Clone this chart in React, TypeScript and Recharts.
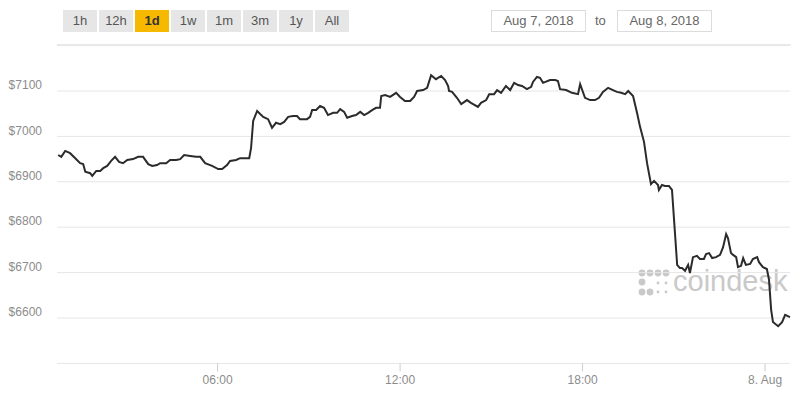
import React from 'react';
import { LineChart, Line, XAxis, YAxis, CartesianGrid } from 'recharts';

// hours since 00:00 Aug 7 (24 = 00:00 Aug 8)
const hours = [
  0.76, 0.86, 0.99, 1.15, 1.32, 1.48, 1.58, 1.65, 1.81, 1.88,
  2.01, 2.14, 2.24, 2.37, 2.5, 2.63, 2.76, 2.89, 3.03, 3.22,
  3.39, 3.55, 3.72, 3.85, 4.01, 4.11, 4.31, 4.44, 4.64, 4.77,
  4.9, 5.1, 5.29, 5.43, 5.59, 5.82, 6.02, 6.15, 6.31, 6.41,
  6.61, 6.74, 6.94, 7.04, 7.1, 7.17, 7.3, 7.5, 7.66, 7.79,
  7.92, 8.06, 8.19, 8.32, 8.48, 8.61, 8.71, 8.94, 9.04, 9.11,
  9.24, 9.37, 9.5, 9.63, 9.8, 9.93, 10.03, 10.16, 10.26, 10.42,
  10.55, 10.69, 10.82, 10.95, 11.08, 11.21, 11.34, 11.38, 11.51, 11.67,
  11.87, 12.0, 12.16, 12.33, 12.46, 12.56, 12.76, 12.89, 13.02, 13.18,
  13.35, 13.48, 13.58, 13.61, 13.71, 13.87, 14.01, 14.2, 14.33, 14.56,
  14.66, 14.83, 14.93, 15.09, 15.19, 15.32, 15.48, 15.62, 15.75, 15.88,
  16.01, 16.17, 16.31, 16.37, 16.5, 16.6, 16.7, 16.93, 17.1, 17.19,
  17.26, 17.46, 17.65, 17.85, 17.92, 18.08, 18.25, 18.41, 18.54, 18.67,
  18.84, 19.0, 19.13, 19.27, 19.4, 19.5, 19.66, 19.79, 19.89, 20.02,
  20.12, 20.25, 20.35, 20.48, 20.51, 20.61, 20.71, 20.84, 20.94, 21.11,
  21.2, 21.27, 21.37, 21.47, 21.53, 21.63, 21.76, 21.86, 21.99, 22.06,
  22.16, 22.26, 22.39, 22.52, 22.62, 22.72, 22.78, 22.88, 22.95, 23.05,
  23.11, 23.21, 23.28, 23.37, 23.51, 23.6, 23.74, 23.8, 23.93, 24.06,
  24.13, 24.2, 24.26, 24.43, 24.56, 24.66, 24.75, 24.82,
];

// BTC price in USD
const prices = [
  6959, 6955, 6968, 6963, 6952, 6941, 6939, 6922, 6919, 6913,
  6924, 6924, 6930, 6935, 6946, 6955, 6944, 6941, 6948, 6950,
  6955, 6955, 6939, 6935, 6937, 6941, 6941, 6948, 6948, 6950,
  6959, 6957, 6955, 6955, 6941, 6935, 6928, 6928, 6937, 6946,
  6948, 6952, 6952, 6952, 6974, 7034, 7056, 7043, 7038, 7019,
  7030, 7027, 7032, 7043, 7045, 7045, 7038, 7038, 7043, 7058,
  7058, 7067, 7063, 7047, 7052, 7052, 7060, 7054, 7041, 7045,
  7047, 7054, 7047, 7052, 7058, 7063, 7063, 7089, 7091, 7087,
  7096, 7087, 7078, 7078, 7087, 7100, 7102, 7107, 7135, 7126,
  7133, 7124, 7111, 7100, 7098, 7085, 7071, 7080, 7074, 7065,
  7074, 7080, 7093, 7093, 7102, 7096, 7111, 7102, 7118, 7113,
  7111, 7104, 7109, 7120, 7131, 7129, 7118, 7124, 7124, 7122,
  7104, 7102, 7096, 7093, 7115, 7085, 7080, 7080, 7085, 7098,
  7107, 7102, 7098, 7096, 7093, 7100, 7089, 7052, 7021, 6988,
  6941, 6895, 6902, 6893, 6882, 6893, 6891, 6891, 6882, 6717,
  6710, 6710, 6704, 6717, 6699, 6734, 6737, 6730, 6730, 6741,
  6743, 6732, 6734, 6739, 6756, 6785, 6776, 6743, 6739, 6734,
  6712, 6715, 6732, 6717, 6719, 6730, 6734, 6723, 6712, 6708,
  6684, 6618, 6591, 6582, 6591, 6607, 6604, 6602,
];

const yTicks = [6600, 6700, 6800, 6900, 7000, 7100];
const xTicks = [6, 12, 18, 24];
const xTickLabels = ['06:00', '12:00', '18:00', '8. Aug'];
const ranges = ['1h', '12h', '1d', '1w', '1m', '3m', '1y', 'All'];
const activeRange = '1d';
const dateFrom = 'Aug 7, 2018';
const dateTo = 'Aug 8, 2018';

const FONT = '"Liberation Sans", Arial, sans-serif';

const data = hours.map((t, i) => ({ t, price: prices[i] }));

function YTick({ x, y, payload }: any) {
  return (
    <text x={x} y={y - 6} dy="0.35em" textAnchor="end" fill="#8c8c8c" fontSize={12} fontFamily={FONT}>
      ${payload.value}
    </text>
  );
}

function Watermark() {
  const dot = (cx: number, cy: number, r: number) => <circle key={`${cx}-${cy}`} cx={cx} cy={cy} r={r} fill="#c9c9c9" />;
  return (
    <div style={{ position: 'absolute', left: 638, top: 266, zIndex: 0, display: 'flex', alignItems: 'center' }}>
      <svg width={32} height={34}>
        {[4, 12, 20, 28].map((cx) => dot(cx, 7, 3.4))}
        {dot(4, 16, 3.4)}
        {dot(4, 26, 3.4)}
        {dot(12, 26, 3.4)}
        {dot(20, 17, 1.4)}
        {dot(20, 26, 1.4)}
        {dot(28, 17, 1.4)}
        {dot(28, 26, 1.4)}
      </svg>
      <span style={{ fontFamily: FONT, fontSize: 29, color: '#c9c9c9', marginLeft: 3, marginTop: -4 }}>coindesk</span>
    </div>
  );
}

export default function App() {
  return (
    <div style={{ position: 'absolute', left: 0, top: 0, width: 800, height: 400, background: '#fff', fontFamily: FONT }}>
      {/* range buttons */}
      {ranges.map((r, i) => (
        <div
          key={r}
          style={{
            position: 'absolute',
            left: 63 + i * 36,
            top: 10,
            width: 34,
            height: 22,
            lineHeight: '22px',
            textAlign: 'center',
            fontSize: 13,
            background: r === activeRange ? '#f7b900' : '#e6e6e6',
            color: r === activeRange ? '#333' : '#555',
            fontWeight: r === activeRange ? 'bold' : 'normal',
          }}
        >
          {r}
        </div>
      ))}

      {/* date range */}
      <div style={{ position: 'absolute', left: 491, top: 10, width: 93, height: 20, border: '1px solid #dcdcdc', textAlign: 'center', lineHeight: '20px', fontSize: 13, color: '#666' }}>
        {dateFrom}
      </div>
      <div style={{ position: 'absolute', left: 595, top: 10, height: 22, lineHeight: '22px', fontSize: 13, color: '#666' }}>to</div>
      <div style={{ position: 'absolute', left: 617, top: 10, width: 93, height: 20, border: '1px solid #dcdcdc', textAlign: 'center', lineHeight: '20px', fontSize: 13, color: '#666' }}>
        {dateTo}
      </div>
      <div style={{ position: 'absolute', left: 57, top: 44, width: 734, height: 1, background: '#e8e8e8' }} />

      <Watermark />

      <div style={{ position: 'absolute', left: 0, top: 0, zIndex: 1 }}>
        <LineChart width={800} height={400} data={data} margin={{ top: 45.6, right: 10, left: 0, bottom: 6.6 }}>
          <CartesianGrid vertical={false} stroke="#e6e6e6" />
          <XAxis
            dataKey="t"
            type="number"
            domain={[0.72, 24.82]}
            ticks={xTicks}
            tickFormatter={(v: number) => xTickLabels[xTicks.indexOf(v)]}
            axisLine={false}
            tickSize={8}
            tickMargin={4}
            height={30}
            tickLine={{ stroke: '#cccccc' }}
            tick={{ fill: '#8c8c8c', fontSize: 12, fontFamily: FONT }}
          />
          <YAxis
            type="number"
            domain={[6500, 7200]}
            ticks={yTicks}
            width={57}
            axisLine={false}
            tickLine={false}
            tickSize={0}
            tickMargin={15}
            tick={<YTick />}
          />
          <Line
            type="linear"
            dataKey="price"
            stroke="#2b2b2b"
            strokeWidth={2}
            dot={false}
            isAnimationActive={false}
          />
        </LineChart>
      </div>
    </div>
  );
}
